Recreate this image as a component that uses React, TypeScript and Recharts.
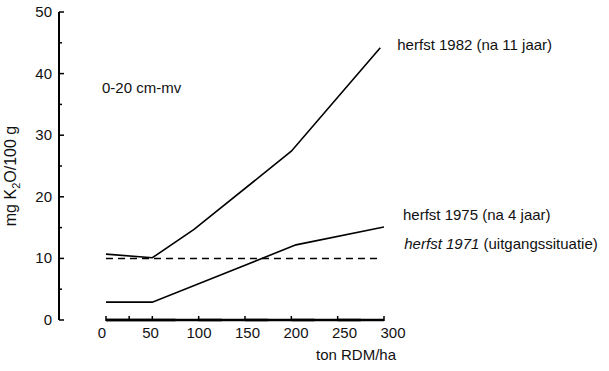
import { Line, LineChart, ReferenceLine, XAxis, YAxis } from "recharts";

// dose (ton RDM/ha) vs K2O content, 0-20 cm below surface
const dose1982 = [0, 50, 95, 200, 296];
const k1982 = [10.7, 10.1, 14.7, 27.4, 44.2];
const dose1975 = [0, 50, 205, 300];
const k1975 = [2.9, 2.9, 12.2, 15.1];
const dose1971 = [0, 296];
const k1971 = [10, 10];

const xTicks = [0, 25, 50, 75, 100, 125, 150, 175, 200, 225, 250, 275, 300];
const yTicks = [0, 5, 10, 15, 20, 25, 30, 35, 40, 45, 50];

const FONT = "'Liberation Sans', Arial, Helvetica, sans-serif";

// plot geometry, used to draw the x axis baseline between ticks
const W = 609;
const H = 371;
const M = { top: 12, right: 225, bottom: 21, left: 0 };
const Y_AXIS_W = 59;
const X_MIN = -50.7;
const X_MAX = 300;
const PX_PER_UNIT = (W - M.left - M.right - Y_AXIS_W) / (X_MAX - X_MIN);

const toPoints = (xs: number[], ys: number[]) => xs.map((x, i) => ({ x, y: ys[i] }));

const s1982 = toPoints(dose1982, k1982);
const s1975 = toPoints(dose1975, k1975);
const s1971 = toPoints(dose1971, k1971);

function YTick(props: any) {
  const { x, y, payload } = props;
  const v = payload.value as number;
  const major = v % 10 === 0;
  return (
    <g>
      <line x1={x} x2={x + (major ? 5 : 3)} y1={y} y2={y} stroke="#000" strokeWidth={1.5} />
      {major && (
        <text x={x - 7} y={y + 5} textAnchor="end" fontSize={15} fontFamily={FONT} fill="#111">
          {v}
        </text>
      )}
    </g>
  );
}

function XTick(props: any) {
  const { x, y, payload } = props;
  const v = payload.value as number;
  // printed labels drift slightly right of their ticks
  const shift = -4 + (13 * v) / 300;
  const step = 25 * PX_PER_UNIT;
  return (
    <g>
      {v < X_MAX && (
        <line x1={x} x2={x + step} y1={y} y2={y} stroke="#000" strokeWidth={2.5} />
      )}
      <line x1={x} x2={x} y1={y + 1} y2={y - 4} stroke="#000" strokeWidth={1.5} />
      {v % 50 === 0 && (
        <text x={x + shift} y={y + 18} textAnchor="middle" fontSize={15} fontFamily={FONT} fill="#111">
          {v}
        </text>
      )}
    </g>
  );
}

const endLabel =
  (n: number, dx: number, dy: number, content: React.ReactNode) =>
  (p: any) =>
    p.index === n - 1 ? (
      <text key="lbl" x={p.x + dx} y={p.y + dy} fontSize={15} fontFamily={FONT} fill="#111">
        {content}
      </text>
    ) : null;

export default function App() {
  return (
    <div style={{ position: "absolute", left: 0, top: 0, background: "#fff" }}>
      <LineChart width={W} height={H} margin={M}>
        <XAxis
          type="number"
          dataKey="x"
          domain={[X_MIN, X_MAX]}
          ticks={xTicks}
          axisLine={false}
          tickLine={false}
          tickSize={0}
          tickMargin={0}
          tick={<XTick />}
          height={30}
          allowDataOverflow
        />
        <YAxis
          type="number"
          domain={[0, 50]}
          ticks={yTicks}
          width={Y_AXIS_W}
          axisLine={{ stroke: "#000", strokeWidth: 2 }}
          tickLine={false}
          tickSize={0}
          tickMargin={0}
          tick={<YTick />}
          interval={0}
        />
        <ReferenceLine
          segment={[
            { x: 0, y: 0 },
            { x: 300, y: 0 },
          ]}
          stroke="#000"
          strokeWidth={2.5}
          ifOverflow="visible"
        />
        <Line
          data={s1971}
          dataKey="y"
          stroke="#000"
          strokeWidth={1.5}
          strokeDasharray="7 5"
          dot={false}
          isAnimationActive={false}
          label={endLabel(
            s1971.length,
            24,
            -9,
            <>
              <tspan fontStyle="italic">herfst 1971</tspan> (uitgangssituatie)
            </>
          )}
        />
        <Line
          data={s1975}
          dataKey="y"
          stroke="#000"
          strokeWidth={1.6}
          dot={false}
          isAnimationActive={false}
          label={endLabel(s1975.length, 19, -7, "herfst 1975 (na 4 jaar)")}
        />
        <Line
          data={s1982}
          dataKey="y"
          stroke="#000"
          strokeWidth={1.6}
          dot={false}
          isAnimationActive={false}
          label={endLabel(s1982.length, 17, 2, "herfst 1982 (na 11 jaar)")}
        />
        <text x={102} y={93} fontSize={15} fontFamily={FONT} fill="#111">
          0-20 cm-mv
        </text>
        <text x={316} y={360} fontSize={15} fontFamily={FONT} fill="#111">
          ton RDM/ha
        </text>
        <text
          transform="translate(16,176) rotate(-90)"
          textAnchor="middle"
          fontSize={16}
          fontFamily={FONT}
          fill="#111"
        >
          mg K<tspan dy={4} fontSize={11}>2</tspan>
          <tspan dy={-4}>O/100 g</tspan>
        </text>
      </LineChart>
    </div>
  );
}
